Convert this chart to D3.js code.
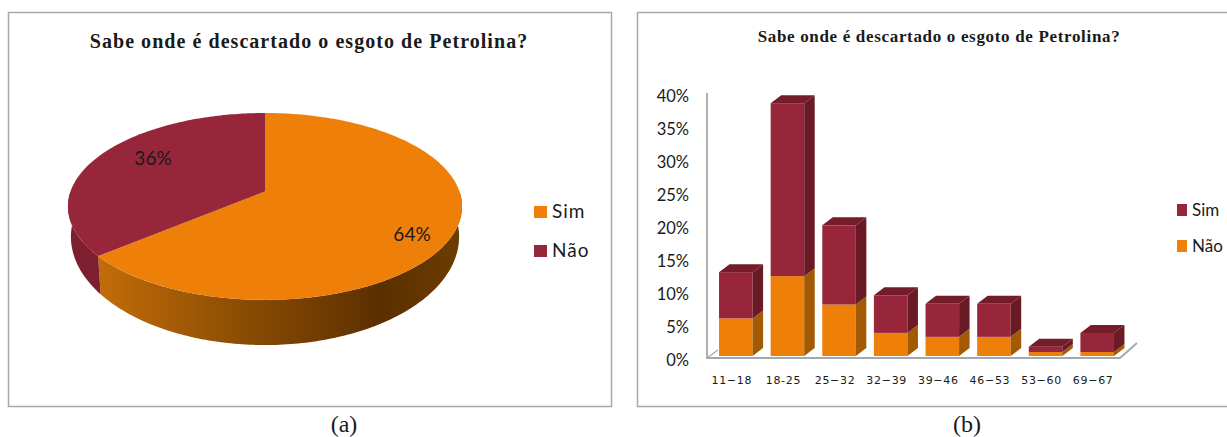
<!DOCTYPE html>
<html>
<head>
<meta charset="utf-8">
<script src="https://cdnjs.cloudflare.com/ajax/libs/d3/7.8.5/d3.min.js"></script>
<style>
html, body { margin: 0; padding: 0; background: #fff; }
svg { display: block; }
text { fill: #1a1a1a; }
</style>
</head>
<body>
<svg id="chart" width="1227" height="437"></svg>
<script>
const titleText = "Sabe onde é descartado o esgoto de Petrolina?";

// (a) pie
const pieLabels = ["Sim", "Não"];
const pieValues = [64, 36];

// (b) stacked bars, percent
const ageGroups = ["11−18", "18-25", "25−32", "32−39", "39−46", "46−53", "53−60", "69−67"];
const naoValues = [5.7, 12.1, 7.8, 3.5, 2.9, 2.9, 0.6, 0.6];
const simValues = [7.0, 26.2, 12.0, 5.7, 5.0, 5.0, 0.8, 2.9];
const yTicks = [0, 5, 10, 15, 20, 25, 30, 35, 40];

const orange = "#ee7f08", red = "#98263a";
const svg = d3.select("#chart");
const defs = svg.append("defs");

// frames, the right one runs off the page
svg.append("rect").attr("x", 8.5).attr("y", 12.5).attr("width", 603).attr("height", 394)
  .attr("fill", "#fff").attr("stroke", "#a8a8a8").attr("stroke-width", 1.5);
svg.append("rect").attr("x", 637.5).attr("y", 12.5).attr("width", 600).attr("height", 394)
  .attr("fill", "#fff").attr("stroke", "#a8a8a8").attr("stroke-width", 1.5);

// titles and captions
svg.append("text").text(titleText).attr("x", 309).attr("y", 48).attr("text-anchor", "middle")
  .style("font-family", "Liberation Serif").style("font-weight", "bold").style("font-size", "20px").style("letter-spacing", "1.05px");
svg.append("text").text(titleText).attr("x", 939).attr("y", 42).attr("text-anchor", "middle")
  .style("font-family", "Liberation Serif").style("font-weight", "bold").style("font-size", "17px").style("letter-spacing", "0.67px");
svg.append("text").text("(a)").attr("x", 344).attr("y", 432).attr("text-anchor", "middle")
  .style("font-family", "Liberation Serif").style("font-size", "24px");
svg.append("text").text("(b)").attr("x", 967).attr("y", 432).attr("text-anchor", "middle")
  .style("font-family", "Liberation Serif").style("font-size", "24px");

// ---- pie ----
const cx = 265;
// perspective projection of the unit disc, centre lands on the apex of the slices
function topPoint(a) {
  const u = Math.sin(a), v = -Math.cos(a), w = 1 - 0.16 * v;
  return [cx + 194.5 * u / w, (60.4 * v + 191.5) / w];
}
function bottomPoint(a) {
  const p = topPoint(a);
  return [cx + (p[0] - cx) * 0.985, 235 + (p[1] - 205) * 1.16];
}
const pieArcs = d3.pie().sort(null)(pieValues);
const lineGen = d3.line();
function arcSamples(a0, a1) {
  const n = Math.max(2, Math.ceil((a1 - a0) * 60));
  return d3.range(n + 1).map(i => a0 + (a1 - a0) * i / n);
}

const rimGrad = defs.append("linearGradient").attr("id", "rimGrad")
  .attr("gradientUnits", "userSpaceOnUse").attr("x1", 100).attr("x2", 460).attr("y1", 0).attr("y2", 0);
rimGrad.append("stop").attr("offset", "0").attr("stop-color", "#c26c08");
rimGrad.append("stop").attr("offset", "0.4").attr("stop-color", "#8a4c04");
rimGrad.append("stop").attr("offset", "0.78").attr("stop-color", "#5c2f00");
rimGrad.append("stop").attr("offset", "1").attr("stop-color", "#6c3c02");

const rimFill = ["url(#rimGrad)", "#7e1f2f"];
const topFill = [orange, red];

// rim first, only the front half of the disc shows it
pieArcs.forEach((d, i) => {
  const a0 = Math.max(d.startAngle, Math.PI / 2), a1 = Math.min(d.endAngle, Math.PI * 1.5);
  const s = arcSamples(a0, a1);
  const pts = s.map(topPoint).concat(s.slice().reverse().map(bottomPoint));
  svg.append("path").attr("d", lineGen(pts) + "Z").attr("fill", rimFill[i]);
});
pieArcs.forEach((d, i) => {
  const pts = [[cx, 191.5]].concat(arcSamples(d.startAngle, d.endAngle).map(topPoint));
  svg.append("path").attr("d", lineGen(pts) + "Z").attr("fill", topFill[i]);
});
const pieLabelPos = [[412, 241], [153, 165]];
pieArcs.forEach((d, i) => {
  svg.append("text").text(pieValues[i] + "%")
    .attr("x", pieLabelPos[i][0]).attr("y", pieLabelPos[i][1]).attr("text-anchor", "middle")
    .style("font-family", "Lato").style("font-size", "19px");
});

// pie legend
pieLabels.forEach((name, i) => {
  const ly = 206 + i * 39;
  svg.append("rect").attr("x", 534).attr("y", ly).attr("width", 13).attr("height", 12).attr("fill", topFill[i]);
  svg.append("text").text(name).attr("x", 552).attr("y", ly + 12)
    .style("font-family", "Lato").style("font-size", "19px").style("letter-spacing", "1px");
});

// ---- bars ----
const x = d3.scaleBand().domain(ageGroups).range([710, 1123]).paddingInner(0.35).paddingOuter(0.175);
const y = d3.scaleLinear().domain([0, 40]).range([356, 92]);
const depthX = 10.5, depthY = 8;

// walls
svg.append("path").attr("d", "M707,93V358H1120L1137,343").attr("fill", "none")
  .attr("stroke", "#a3a8ad").attr("stroke-width", 1.8);
svg.append("path").attr("d", "M707,358L718,350").attr("fill", "none")
  .attr("stroke", "#a3a8ad").attr("stroke-width", 1.2);

function drawBlock(bx, y0, y1, front, side, top) {
  const w = x.bandwidth();
  svg.append("rect").attr("x", bx).attr("y", y(y1)).attr("width", w).attr("height", y(y0) - y(y1)).attr("fill", front);
  svg.append("path").attr("d", lineGen([[bx + w, y(y0)], [bx + w + depthX, y(y0) - depthY], [bx + w + depthX, y(y1) - depthY], [bx + w, y(y1)]]) + "Z").attr("fill", side);
  if (top) {
    svg.append("path").attr("d", lineGen([[bx, y(y1)], [bx + depthX, y(y1) - depthY], [bx + w + depthX, y(y1) - depthY], [bx + w, y(y1)]]) + "Z").attr("fill", top);
  }
}
ageGroups.forEach((g, i) => {
  const bx = x(g);
  drawBlock(bx, 0, naoValues[i], orange, "#a35a05");
  drawBlock(bx, naoValues[i], naoValues[i] + simValues[i], red, "#6a1a25", "#741c29");
});

// axes
const yAxis = svg.append("g").attr("transform", "translate(691,0)")
  .call(d3.axisLeft(y).tickValues(yTicks).tickSize(0).tickPadding(2).tickFormat(d => d + "%"));
yAxis.select(".domain").remove();
yAxis.selectAll("text").attr("dy", "0.55em")
  .style("font-family", "Lato").style("font-size", "16.5px").style("fill", "#1a1a1a");

const xAxis = svg.append("g").attr("transform", "translate(-4,376)")
  .call(d3.axisBottom(x).tickSize(0).tickPadding(0));
xAxis.select(".domain").remove();
xAxis.selectAll("text").attr("dy", "0.75em")
  .style("font-family", "DejaVu Sans").style("font-size", "11px").style("letter-spacing", "0.7px").style("fill", "#1a1a1a");

// bar legend
const barLegend = [["Sim", red], ["Não", orange]];
barLegend.forEach((d, i) => {
  const ly = 204 + i * 36;
  svg.append("rect").attr("x", 1177).attr("y", ly).attr("width", 10).attr("height", 12).attr("fill", d[1]);
  svg.append("text").text(d[0]).attr("x", 1192).attr("y", ly + 12)
    .style("font-family", "Lato").style("font-size", "17px");
});
</script>
</body>
</html>
